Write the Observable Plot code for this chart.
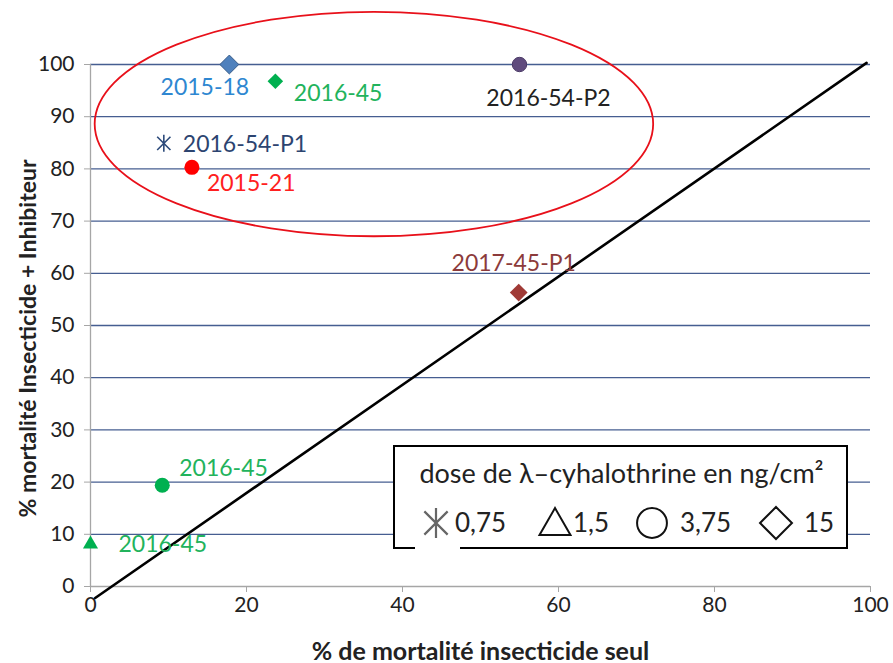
<!DOCTYPE html>
<html>
<head>
<meta charset="utf-8">
<script src="https://cdn.jsdelivr.net/npm/d3@7"></script>
<script src="https://cdn.jsdelivr.net/npm/@observablehq/plot@0.6"></script>
<style>
  html, body { margin: 0; padding: 0; background: #fff; }
  #wrap { position: relative; width: 893px; height: 663px; font-family: Lato, "Open Sans", sans-serif; }
  #legend { position: absolute; left: 0; top: 0; pointer-events: none; }
</style>
</head>
<body>
<div id="wrap"></div>
<script>
// ---------- data ----------
const labels  = ["2015-18", "2016-45", "2016-54-P2", "2016-54-P1", "2015-21", "2017-45-P1", "2016-45", "2016-45"];
const xSeul   = [17.8, 23.7, 55.0, 9.4, 13.0, 54.9, 9.2, 0.0];
const yInhib  = [100, 96.8, 100, 84.9, 80.3, 56.3, 19.4, 8.1];
const doses   = ["15", "15", "3,75", "0,75", "3,75", "15", "3,75", "1,5"];

const xTicks = [0, 20, 40, 60, 80, 100];
const yTicks = [0, 10, 20, 30, 40, 50, 60, 70, 80, 90, 100];

const refLineX = [0.6, 99.5];
const refLineY = [-2.2, 100.3];

const ellipseCenter = [36.4, 88.5];
const ellipseRadii  = [35.8, 21.5];

const xTitle = "% de mortalité insecticide seul";
const yTitle = "% mortalité Insecticide + Inhibiteur";
const legendTitle = "dose de λ–cyhalothrine en ng/cm²";
const legendDoses = ["0,75", "1,5", "3,75", "15"];

// ---------- styles (kept apart from data) ----------
// Excel-like asterisk: vertical stroke plus an X
const symbolStar = {
  draw(context, size) {
    const r = Math.sqrt(size / Math.PI);
    const d = r * 0.78;
    context.moveTo(0, -r); context.lineTo(0, r);
    context.moveTo(-d, -d); context.lineTo(d, d);
    context.moveTo(-d, d); context.lineTo(d, -d);
  }
};
const symbolByDose = {"0,75": symbolStar, "1,5": d3.symbolTriangle, "3,75": d3.symbolCircle, "15": d3.symbolDiamond2};
const pointStyle = [
  {fill: "#4F81BD", stroke: "#385D8A", r: 8.5, text: "#2E87D1", anchor: "middle", dx: -24.5, dy: 23.5},
  {fill: "#00B050", stroke: "none",    r: 7.0, text: "#22B35C", anchor: "start",  dx: 18.5,  dy: 12},
  {fill: "#5F4B7D", stroke: "#4B3A66", r: 7.2, text: "#222222", anchor: "middle", dx: 29,    dy: 34.5},
  {fill: "none",    stroke: "#2D4B7B", r: 8.5, text: "#2C4470", anchor: "start",  dx: 19,    dy: 1},
  {fill: "#FF0000", stroke: "none",    r: 7.5, text: "#FF2020", anchor: "start",  dx: 15,    dy: 16},
  {fill: "#A03A36", stroke: "none",    r: 8.0, text: "#8C3B3B", anchor: "middle", dx: -5,    dy: -29},
  {fill: "#00B050", stroke: "none",    r: 7.5, text: "#22B35C", anchor: "start",  dx: 17,    dy: -16.5},
  {fill: "#00B050", stroke: "none",    r: 5.6, text: "#22B35C", anchor: "start",  dx: 28,    dy: 0}
];

const points = labels.map((l, i) => ({label: l, x: xSeul[i], y: yInhib[i], dose: doses[i]}));
const refLine = refLineX.map((x, i) => ({x, y: refLineY[i]}));

const gridColor = "#465E91";
const axisGray = "#A6A6A6";
const FONT = "Lato, 'Open Sans', sans-serif";

const dotMarks = points.map((p, i) => {
  const s = pointStyle[i];
  return Plot.dot([p], {x: "x", y: "y", symbol: () => symbolByDose[p.dose], r: s.r,
    fill: s.fill, stroke: s.stroke, strokeWidth: p.dose === "0,75" ? 1.6 : 1});
});
const labelMarks = points.map((p, i) => {
  const s = pointStyle[i];
  return Plot.text([p], {x: "x", y: "y", text: "label", fill: s.text, textAnchor: s.anchor,
    dx: s.dx, dy: s.dy, fontSize: 23, lineAnchor: "middle"});
});

const ellipseMark = (index, scales) => {
  const g = d3.create("svg:g");
  const cx = scales.x(ellipseCenter[0]), cy = scales.y(ellipseCenter[1]);
  const rx = scales.x(ellipseCenter[0] + ellipseRadii[0]) - cx;
  const ry = cy - scales.y(ellipseCenter[1] + ellipseRadii[1]);
  g.append("ellipse").attr("cx", cx).attr("cy", cy).attr("rx", rx).attr("ry", ry)
    .attr("fill", "none").attr("stroke", "#E8101A").attr("stroke-width", 1.8);
  return g.node();
};

const chart = Plot.plot({
  width: 893,
  height: 663,
  marginLeft: 90,
  marginRight: 23,
  marginTop: 64,
  marginBottom: 77,
  style: {fontFamily: FONT, background: "#fff", color: "#222", overflow: "visible"},
  x: {domain: [0, 100]},
  y: {domain: [0, 100]},
  marks: [
    Plot.ruleY(yTicks.filter(v => v > 0), {stroke: gridColor, strokeWidth: 1.3}),
    Plot.ruleX([0], {stroke: axisGray, strokeWidth: 1.3}),
    Plot.ruleY([0], {stroke: axisGray, strokeWidth: 1.3}),
    Plot.axisY(yTicks, {tickSize: 6, tickPadding: 10, stroke: axisGray, fill: "#222", fontSize: 21, label: null}),
    Plot.axisX(xTicks, {tickSize: 6, tickPadding: 5, stroke: axisGray, fill: "#222", fontSize: 21, label: null}),
    Plot.text([xTitle], {text: d => d, frameAnchor: "bottom", textAnchor: "middle", dy: 65, fontSize: 25, fontWeight: "bold", fill: "#222", lineAnchor: "middle"}),
    Plot.text([yTitle], {text: d => d, frameAnchor: "left", textAnchor: "middle", rotate: -90, dx: -62, dy: 13, fontSize: 23, fontWeight: "bold", fill: "#222", lineAnchor: "middle"}),
    Plot.line(refLine, {x: "x", y: "y", stroke: "#000", strokeWidth: 2.6}),
    ellipseMark,
    ...dotMarks,
    ...labelMarks
  ]
});

const wrap = document.getElementById("wrap");
wrap.appendChild(chart);

// ---------- legend box (overlay) ----------
const L = {left: 394, top: 446, width: 453, height: 102};
const svg = d3.select(wrap).append("svg").attr("id", "legend").attr("width", 893).attr("height", 663);
svg.append("rect").attr("x", L.left).attr("y", L.top).attr("width", L.width).attr("height", L.height)
  .attr("fill", "#fff").attr("stroke", "#000").attr("stroke-width", 2);
svg.append("rect").attr("x", 415).attr("y", L.top + L.height - 1.5).attr("width", 45).attr("height", 3).attr("fill", "#fff");
svg.append("text").attr("x", L.left + L.width / 2 + 1).attr("y", 474).attr("dy", "0.35em")
  .attr("text-anchor", "middle").attr("font-size", 27).attr("fill", "#222")
  .attr("font-family", FONT).text(legendTitle);
const legendSym = [symbolStar, d3.symbolTriangle, d3.symbolCircle, d3.symbolDiamond2];
const symX = [436, 555, 652, 776];
const symY = [523, 526, 523, 523];
const symSize = [700, 416, 700, 650];
const labX = [455, 573, 680, 804];
legendDoses.forEach((d, i) => {
  svg.append("path").attr("transform", `translate(${symX[i]},${symY[i]})`)
    .attr("d", d3.symbol(legendSym[i], symSize[i])())
    .attr("fill", "none").attr("stroke", i === 0 ? "#666" : "#111").attr("stroke-width", i === 0 ? 2.2 : 2);
  svg.append("text").attr("x", labX[i]).attr("y", 523).attr("dy", "0.35em")
    .attr("font-size", 26).attr("fill", "#222").attr("font-family", FONT).text(d);
});
</script>
</body>
</html>
